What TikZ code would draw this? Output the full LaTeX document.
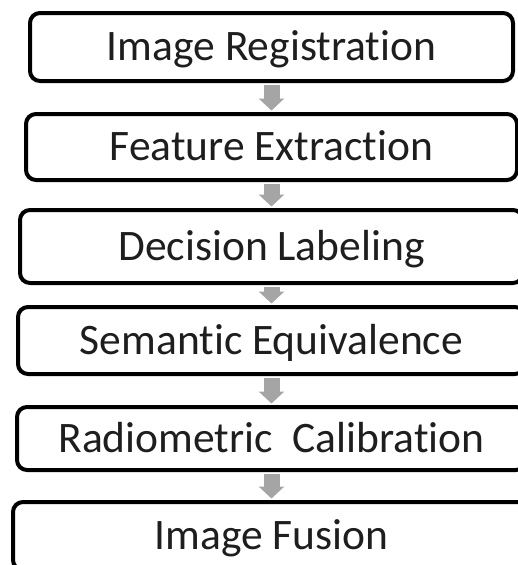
\documentclass[tikz,border=0pt]{standalone}
\usepackage{fontspec}
\setmainfont{Carlito}[RawFeature={-liga}]
\usetikzlibrary{arrows.meta}
\definecolor{arrgray}{HTML}{A5A5A5}
\definecolor{txt}{HTML}{1E1E1E}
\tikzset{
  stagebox/.style={draw=black, line width=4pt, rounded corners=10pt, fill=white,
    text=txt, font=\fontsize{43.5}{50}\selectfont, text height=27.7pt, text depth=0pt,
    inner sep=0pt},
  flowarrow/.style={draw=arrgray, line width=16pt, shorten <=2pt, shorten >=1.5pt,
    -{Triangle[width=25pt,length=12pt]}}
}
\begin{document}
\begin{tikzpicture}[x=1pt,y=-1pt]
\useasboundingbox (0,0) rectangle (518,565);
\clip (0,0) rectangle (518,565);
\fill[white] (0,0) rectangle (518,565);
\node[stagebox, minimum width=483pt, minimum height=68pt] (n1) at (271.5,47) {Image Registration};
\node[stagebox, minimum width=491pt, minimum height=66pt] (n2) at (271.5,147) {Feature Extraction};
\node[stagebox, minimum width=503pt, minimum height=73pt] (n3) at (271.5,246.5) {Decision Labeling};
\node[stagebox, minimum width=507pt, minimum height=67pt] (n4) at (271.5,340.5) {Semantic Equivalence};
\node[stagebox, minimum width=509pt, minimum height=63pt] (n5) at (271.5,438.5) {Radiometric\ \ Calibration};
\node[stagebox, minimum width=517pt, minimum height=68pt] (n6) at (271.5,536) {Image Fusion};
\draw[flowarrow] (n1.south) -- (n2.north);
\draw[flowarrow] (n2.south) -- (n3.north);
\draw[flowarrow] (n3.south) -- (n4.north);
\draw[flowarrow] (n4.south) -- (n5.north);
\draw[flowarrow] (n5.south) -- (n6.north);
\end{tikzpicture}
\end{document}
